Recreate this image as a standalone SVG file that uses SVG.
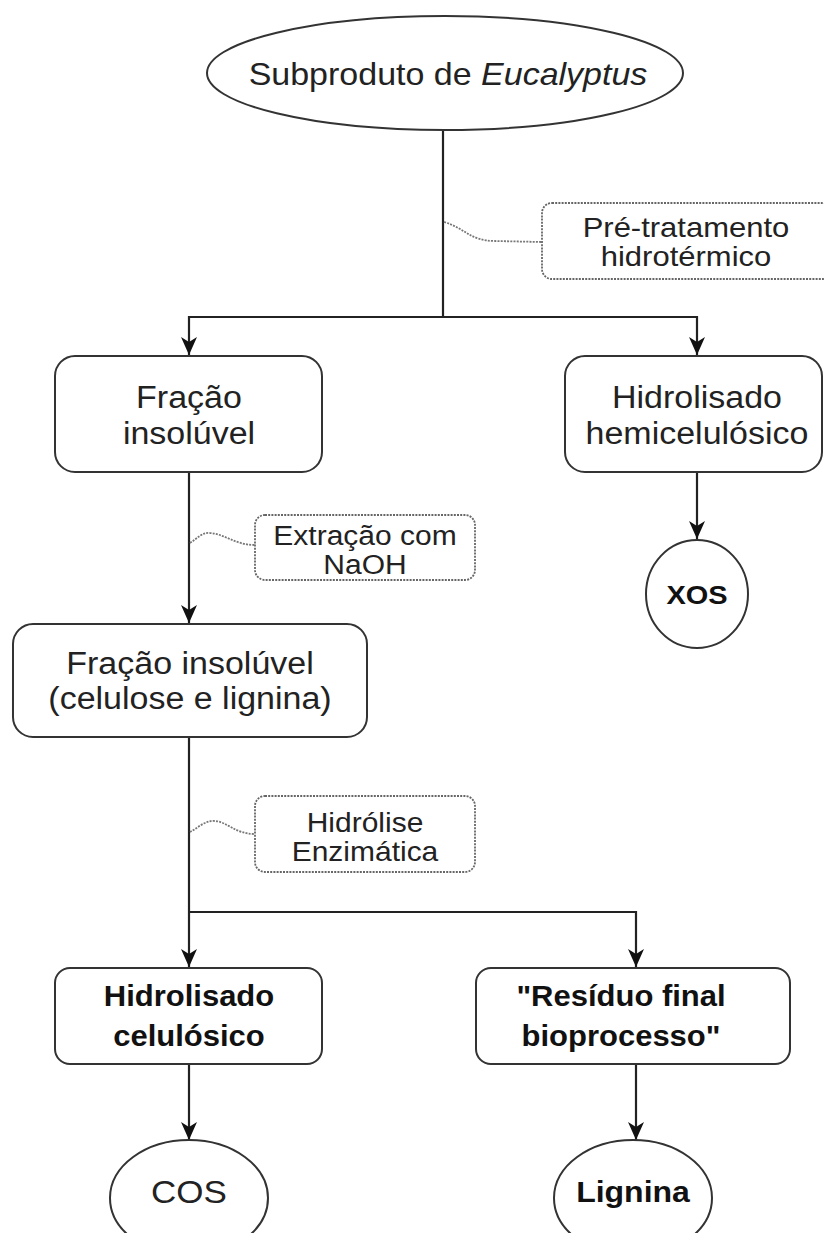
<svg xmlns="http://www.w3.org/2000/svg" width="824" height="1233" viewBox="0 0 824 1233">
<defs>
<style>
.box{fill:#fff;stroke:#333;stroke-width:2}
.note{fill:#fff;stroke:#666;stroke-width:1.8;stroke-dasharray:2 1.2}
.edge{fill:none;stroke:#222;stroke-width:2.2}
.curve{fill:none;stroke:#777;stroke-width:1.8;stroke-dasharray:2 1.2}
text{font-family:"Liberation Sans",Arial,sans-serif;fill:#222;text-anchor:middle}
.b{font-weight:bold;fill:#111}
.f34{font-size:34px}
.f31{font-size:31px}
.f30{font-size:30px}
</style>
<marker id="arr" markerUnits="userSpaceOnUse" markerWidth="20" markerHeight="18" refX="18" refY="8" orient="auto">
<path d="M0,0 L18,8 L0,16 L5,8 z" fill="#111"/>
</marker>
</defs>

<g id="connectors">
<path class="edge" d="M443,130 V317"/>
<path class="edge" d="M443,317 H189 V355" marker-end="url(#arr)"/>
<path class="edge" d="M443,317 H697 V355" marker-end="url(#arr)"/>
<path class="edge" d="M697,471 V539" marker-end="url(#arr)"/>
<path class="edge" d="M189,471 V623" marker-end="url(#arr)"/>
<path class="edge" d="M189,737 V967" marker-end="url(#arr)"/>
<path class="edge" d="M189,912 H636 V967" marker-end="url(#arr)"/>
<path class="edge" d="M189,1064 V1140" marker-end="url(#arr)"/>
<path class="edge" d="M636,1064 V1140" marker-end="url(#arr)"/>
<path class="curve" d="M444,222 C465,228 470,241 495,241 L542,242"/>
<path class="curve" d="M190,543 C198,538 202,532 210,533 C225,534 235,545 255,545"/>
<path class="curve" d="M190,832 C198,828 205,820 215,821 C228,822 235,834 255,834"/>
</g>

<g id="n-subproduto">
<ellipse class="box" cx="445" cy="73" rx="238" ry="57"/>
<text class="f34" transform="matrix(1 0 0 0.92 448 85)">Subproduto de <tspan font-style="italic">Eucalyptus</tspan></text>
</g>

<g id="n-pretratamento">
<rect class="note" x="542" y="203" width="290" height="76" rx="10"/>
<text class="f31" transform="matrix(1 0 0 0.9 686 237)">Pré-tratamento</text>
<text class="f31" transform="matrix(1 0 0 0.9 686 266)">hidrotérmico</text>
</g>

<g id="n-fracao1">
<rect class="box" x="55" y="356" width="267" height="116" rx="20"/>
<text class="f34" transform="matrix(1 0 0 0.9 189 408)">Fração</text>
<text class="f34" transform="matrix(1 0 0 0.9 189 444)">insolúvel</text>
</g>

<g id="n-hemicelulosico">
<rect class="box" x="565" y="356" width="257" height="116" rx="20"/>
<text class="f34" transform="matrix(1 0 0 0.9 697 408)">Hidrolisado</text>
<text class="f34" transform="matrix(1 0 0 0.9 697 444)">hemicelulósico</text>
</g>

<g id="n-xos">
<ellipse class="box" cx="697" cy="594" rx="51" ry="54"/>
<text class="b" font-size="29" transform="matrix(1 0 0 0.9 697 604)">XOS</text>
</g>

<g id="n-extracao">
<rect class="note" x="255" y="515" width="220" height="65" rx="10"/>
<text class="f30" transform="matrix(1 0 0 0.92 365 545)">Extração com</text>
<text class="f30" transform="matrix(1 0 0 0.92 365 574)">NaOH</text>
</g>

<g id="n-fracao2">
<rect class="box" x="13" y="624" width="354" height="113" rx="20"/>
<text class="f34" transform="matrix(1 0 0 0.9 190 674)">Fração insolúvel</text>
<text class="f34" transform="matrix(1 0 0 0.9 190 709)">(celulose e lignina)</text>
</g>

<g id="n-hidrolise">
<rect class="note" x="255" y="796" width="220" height="76" rx="10"/>
<text class="f30" transform="matrix(1 0 0 0.9 365 832)">Hidrólise</text>
<text class="f30" transform="matrix(1 0 0 0.9 365 861)">Enzimática</text>
</g>

<g id="n-celulosico">
<rect class="box" x="55" y="968" width="267" height="96" rx="15"/>
<text class="b f31" transform="matrix(1 0 0 0.95 189 1006)">Hidrolisado</text>
<text class="b f31" transform="matrix(1 0 0 0.95 189 1046)">celulósico</text>
</g>

<g id="n-residuo">
<rect class="box" x="476" y="968" width="314" height="96" rx="15"/>
<text class="b f31" transform="matrix(1 0 0 0.95 621 1006)">"Resíduo final</text>
<text class="b f31" transform="matrix(1 0 0 0.95 621 1046)">bioprocesso"</text>
</g>

<g id="n-cos">
<ellipse class="box" cx="189" cy="1198" rx="79" ry="58"/>
<text font-size="35" transform="matrix(1 0 0 0.92 189 1203)">COS</text>
</g>

<g id="n-lignina">
<ellipse class="box" cx="633" cy="1198" rx="79" ry="58"/>
<text class="b" font-size="32" fill="#000" transform="matrix(1 0 0 0.95 633 1202)">Lignina</text>
</g>
</svg>
